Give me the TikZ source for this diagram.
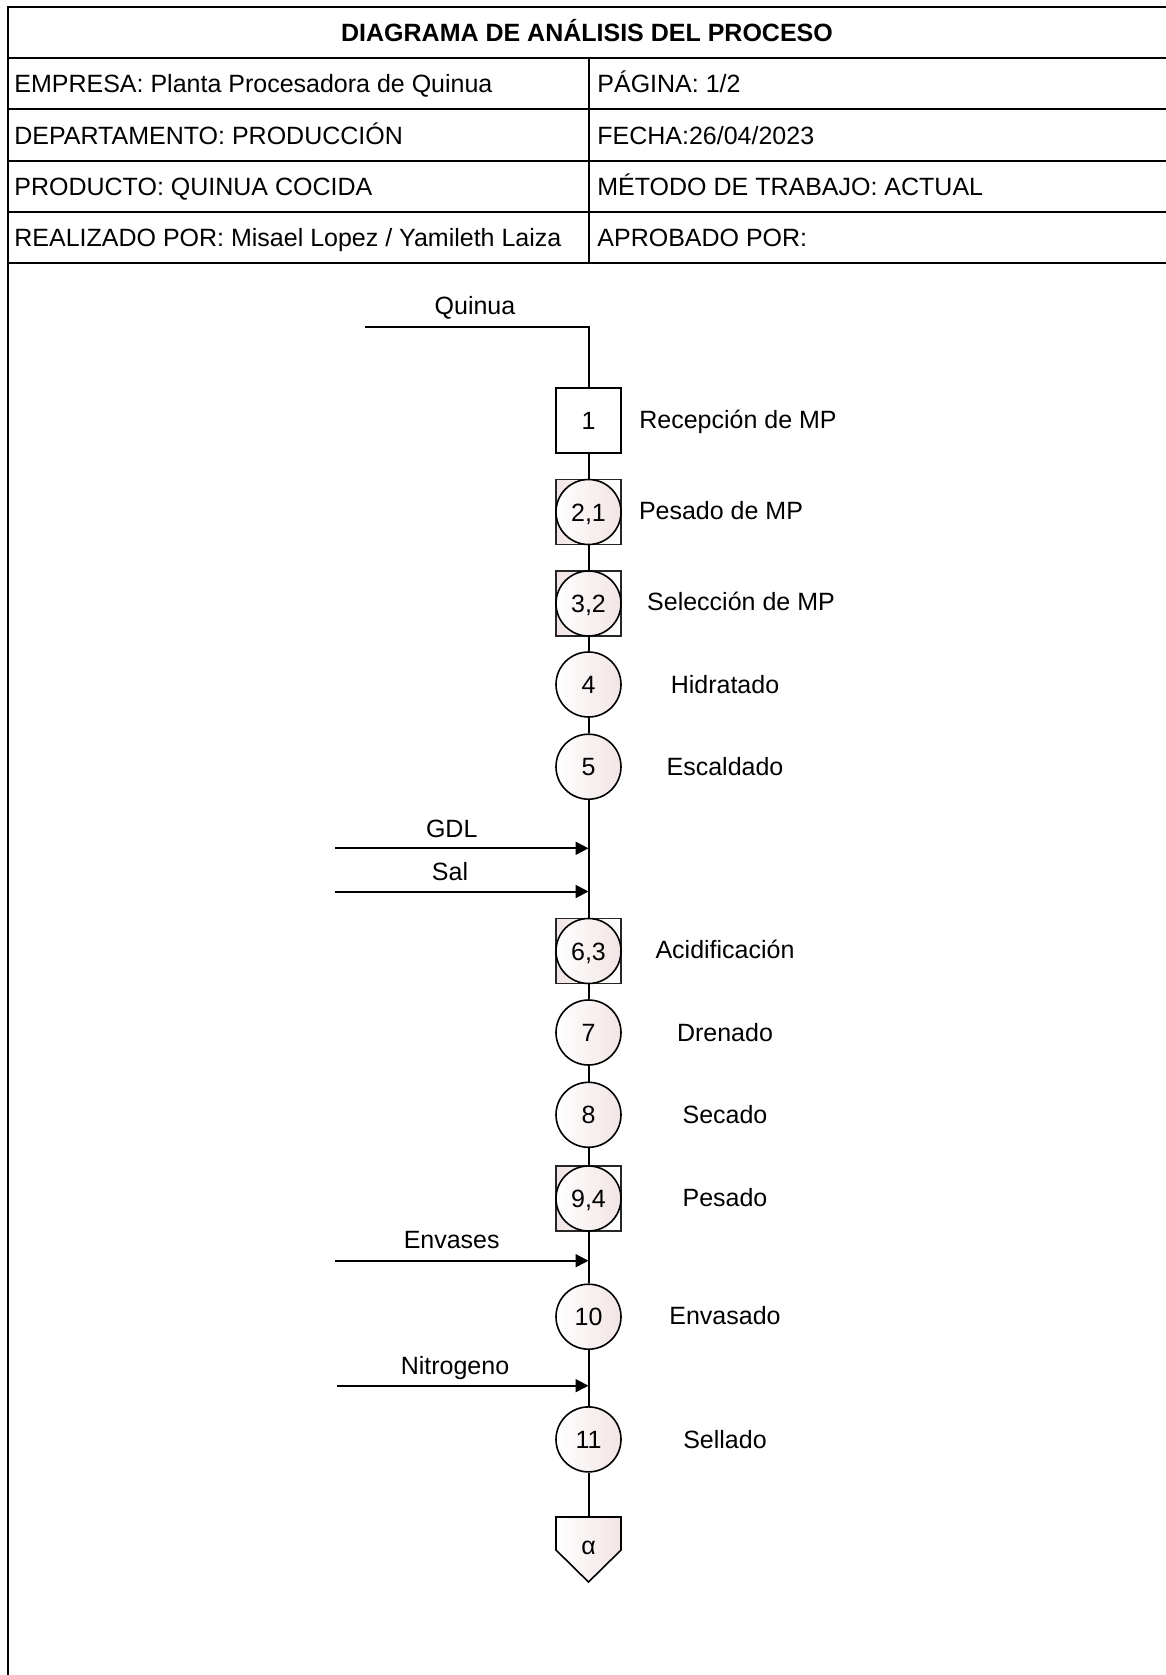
\documentclass[tikz,border=0pt]{standalone}
\usepackage{fontspec}
\setmainfont{Liberation Sans}
\usetikzlibrary{arrows.meta,shapes.geometric}
\definecolor{blush}{RGB}{242,228,228}
\tikzset{
  txt/.style={font=\fontsize{12.5pt}{15pt}\selectfont, inner sep=0pt, text height=9pt, text depth=0pt},
  rule/.style={line width=1pt, draw=black},
  flow/.style={line width=1pt},
  inarrow/.style={line width=1pt, -{Triangle[length=6.5pt,width=6.5pt]}},
  opbox/.style={rectangle, draw, line width=0.8pt, minimum size=32.5pt, inner sep=0pt, fill=white, txt},
  combobox/.style={rectangle, draw=black!85, line width=0.8pt, minimum size=32.5pt, inner sep=0pt, left color=blush, right color=white},
  opcirc/.style={circle, draw, line width=0.8pt, minimum size=32.5pt, inner sep=0pt, left color=white, right color=blush, txt},
}
\begin{document}
\begin{tikzpicture}[x=0.5pt,y=-0.5pt]
  % page area
  \fill[white] (0,0) rectangle (1166,1675);
  \useasboundingbox (0,0) rectangle (1166,1675);

  % header table
  \draw[rule] (1166,7.5) -- (7.5,7.5) -- (7.5,1675);
  \foreach \yy in {58.5,109.5,160.5,211.5,262.5}
    \draw[rule] (7.5,\yy) -- (1166,\yy);
  \draw[rule] (589,58.5) -- (589,262.5);

  \node[txt, font=\fontsize{12.5pt}{15pt}\selectfont\bfseries] (title) at (587,33) {DIAGRAMA DE ANÁLISIS DEL PROCESO};
  \node[txt, anchor=west] (empresa) at (14,84) {EMPRESA: Planta Procesadora de Quinua};
  \node[txt, anchor=west] (pagina) at (597,84) {PÁGINA: 1/2};
  \node[txt, anchor=west] (depto) at (14,135) {DEPARTAMENTO: PRODUCCIÓN};
  \node[txt, anchor=west] (fecha) at (597,135) {FECHA:26/04/2023};
  \node[txt, anchor=west] (producto) at (14,186) {PRODUCTO: QUINUA COCIDA};
  \node[txt, anchor=west] (metodo) at (597,186) {MÉTODO DE TRABAJO: ACTUAL};
  \node[txt, anchor=west] (realizado) at (14,237) {REALIZADO POR: Misael Lopez / Yamileth Laiza};
  \node[txt, anchor=west] (aprobado) at (597,237) {APROBADO POR:};

  % raw material entry
  \coordinate (qstart) at (365,326.7);
  \coordinate (qcorner) at (588.5,326.7);
  \node[txt] (quinua) at (475,305) {Quinua};

  % process symbols
  \node[opbox] (n1) at (588.5,420.5) {1};

  \node[combobox] (n2) at (588.5,512) {};
  \node[opcirc] (n2c) at (n2) {2,1};

  \node[combobox] (n3) at (588.5,603.5) {};
  \node[opcirc] (n3c) at (n3) {3,2};

  \node[opcirc] (n4) at (588.5,684.5) {4};
  \node[opcirc] (n5) at (588.5,766.7) {5};

  \node[combobox] (n6) at (588.5,951) {};
  \node[opcirc] (n6c) at (n6) {6,3};

  \node[opcirc] (n7) at (588.5,1032.5) {7};
  \node[opcirc] (n8) at (588.5,1114.8) {8};

  \node[combobox] (n9) at (588.5,1198.5) {};
  \node[opcirc] (n9c) at (n9) {9,4};

  \node[opcirc] (n10) at (588.5,1316.7) {10};
  \node[opcirc] (n11) at (588.5,1439.4) {11};

  % off-page connector
  \coordinate (alphatop) at (588.5,1517);
  \shade[left color=white, right color=blush, draw=black, line width=0.8pt]
    (556,1517) -- (621,1517) -- (621,1550) -- (588.5,1582) -- (556,1550) -- cycle;
  \node[txt, text height=5.5pt] (alpha) at (588.5,1549) {α};

  % main flow line
  \draw[flow] (qstart) -- (qcorner) -- (n1);
  \draw[flow] (n1) -- (n2);
  \draw[flow] (n2) -- (n3);
  \draw[flow] (n3) -- (n4);
  \draw[flow] (n4) -- (n5);
  \draw[flow] (n5) -- (n6);
  \draw[flow] (n6) -- (n7);
  \draw[flow] (n7) -- (n8);
  \draw[flow] (n8) -- (n9);
  \draw[flow] (n9) -- (n10);
  \draw[flow] (n10) -- (n11);
  \draw[flow] (n11) -- (alphatop);

  % material inputs
  \coordinate (gdlin) at (335,848.3);
  \coordinate (gdlend) at (588.5,848.3);
  \node[txt] (gdl) at (451.7,828) {GDL};
  \draw[inarrow] (gdlin) -- (gdlend);

  \coordinate (salin) at (335,891.5);
  \coordinate (salend) at (588.5,891.5);
  \node[txt] (sal) at (450,871) {Sal};
  \draw[inarrow] (salin) -- (salend);

  \coordinate (envin) at (335,1260.7);
  \coordinate (envend) at (588.5,1260.7);
  \node[txt] (envases) at (451.7,1239.5) {Envases};
  \draw[inarrow] (envin) -- (envend);

  \coordinate (nitin) at (337,1385.7);
  \coordinate (nitend) at (588.5,1385.7);
  \node[txt] (nitrogeno) at (455,1365) {Nitrogeno};
  \draw[inarrow] (nitin) -- (nitend);

  % activity descriptions
  \node[txt] (d1) at (738,419) {Recepción de MP};
  \node[txt] (d2) at (721,510.5) {Pesado de MP};
  \node[txt] (d3) at (741,601.5) {Selección de MP};
  \node[txt] (d4) at (725,684.5) {Hidratado};
  \node[txt] (d5) at (725,766.7) {Escaldado};
  \node[txt] (d6) at (725,949.5) {Acidificación};
  \node[txt] (d7) at (725,1032.5) {Drenado};
  \node[txt] (d8) at (725,1114.8) {Secado};
  \node[txt] (d9) at (725,1197.5) {Pesado};
  \node[txt] (d10) at (725,1315.5) {Envasado};
  \node[txt] (d11) at (725,1439.4) {Sellado};
\end{tikzpicture}
\end{document}
